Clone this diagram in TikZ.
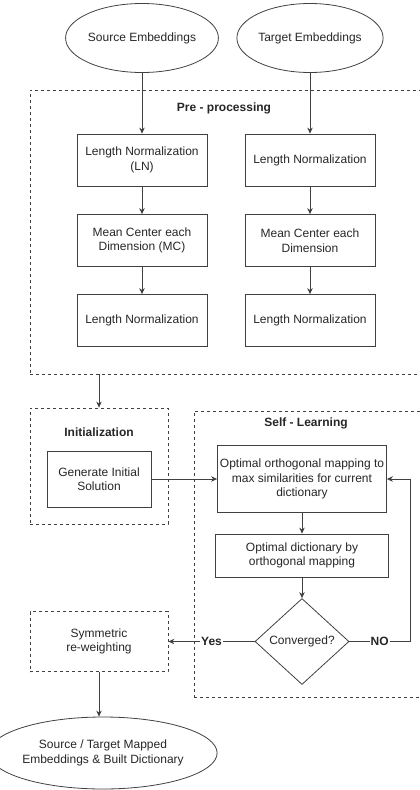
\documentclass[tikz,border=0pt]{standalone}
\usepackage{fontspec}
\setmainfont{Liberation Sans}
\usetikzlibrary{arrows.meta,shapes.geometric}

\begin{document}
\begin{tikzpicture}[x=1pt,y=-1pt,>={Stealth[length=6pt,width=5.5pt]},
  font=\fontsize{12}{14.5}\selectfont,line width=0.8pt,color=black!75,
  every node/.style={align=center,inner sep=0pt,text=black!85},
  box/.style={draw,rectangle,minimum width=130,minimum height=52},
  gruppe/.style={draw,rectangle,dash pattern=on 3pt off 3pt},
  titel/.style={font=\fontsize{12}{14.5}\selectfont\bfseries},
  term/.style={draw,ellipse,minimum width=138,minimum height=69},
  frage/.style={draw,diamond,minimum width=94,minimum height=86},
  lbl/.style={titel,fill=white,inner sep=1pt}]
  \useasboundingbox (0,0) rectangle (420,790);
  \clip (0,0) rectangle (420,790);
  % Eingaben
  \node[term] (src) at (142,38) {Source Embeddings};
  \node[term] (tgt) at (310,38) {Target Embeddings};
  % Vorverarbeitung
  \node[gruppe,minimum width=396,minimum height=284] (pre) at (228,232) {};
  \node[titel] (pretitel) at (224,108) {Pre - processing};
  \node[box] (lnA) at (142,160) {Length Normalization\\(LN)};
  \node[box] (lnB) at (310,160) {Length Normalization};
  \node[box] (mcA) at (142,240.5) {Mean Center each\\Dimension (MC)};
  \node[box] (mcB) at (310,240.5) {Mean Center each\\Dimension};
  \node[box] (lnC) at (142,320.5) {Length Normalization};
  \node[box] (lnD) at (310,320.5) {Length Normalization};
  % Initialisierung
  \node[gruppe,minimum width=138,minimum height=116] (init) at (99,466) {};
  \node[titel] (inittitel) at (99,432) {Initialization};
  \node[box,minimum width=104,minimum height=56] (gen) at (99,479) {Generate Initial\\Solution};
  % Selbstlernen
  \node[gruppe,minimum width=231,minimum height=286] (self) at (309.5,554) {};
  \node[titel] (selftitel) at (306,423) {Self - Learning};
  \node[box,minimum width=169,minimum height=67] (opt) at (302,479) {Optimal orthogonal mapping to\\max similarities for current\\dictionary};
  \node[box,minimum width=173,minimum height=43] (dict) at (302,555.5) {Optimal dictionary by\\orthogonal mapping};
  \node[frage] (conv) at (302,641.5) {Converged?};
  \coordinate (rueck) at (410,0);
  % Ausgabe
  \node[gruppe,minimum width=138,minimum height=60] (sym) at (99,641.5) {Symmetric\\re-weighting};
  \node[term,minimum width=172,minimum height=72] (out) at (103,753) {Source / Target Mapped\\Embeddings \& Built Dictionary};
  % Pfeile
  \draw[->] (src) -- (lnA);
  \draw[->] (tgt) -- (lnB);
  \draw[->] (lnA) -- (mcA);
  \draw[->] (lnB) -- (mcB);
  \draw[->] (mcA) -- (lnC);
  \draw[->] (mcB) -- (lnD);
  \draw[->] (pre.south -| init.north) -- (init.north);
  \draw[->] (gen) -- (opt);
  \draw[->] (opt) -- (dict);
  \draw[->] (dict) -- (conv);
  \draw[->] (conv) -- node[lbl]{Yes} (sym);
  \draw[->] (conv.east) -- node[lbl]{NO} (conv.east -| rueck) |- (opt.east);
  \draw[->] (sym.south) -- (sym.south |- out.north);
\end{tikzpicture}
\end{document}
